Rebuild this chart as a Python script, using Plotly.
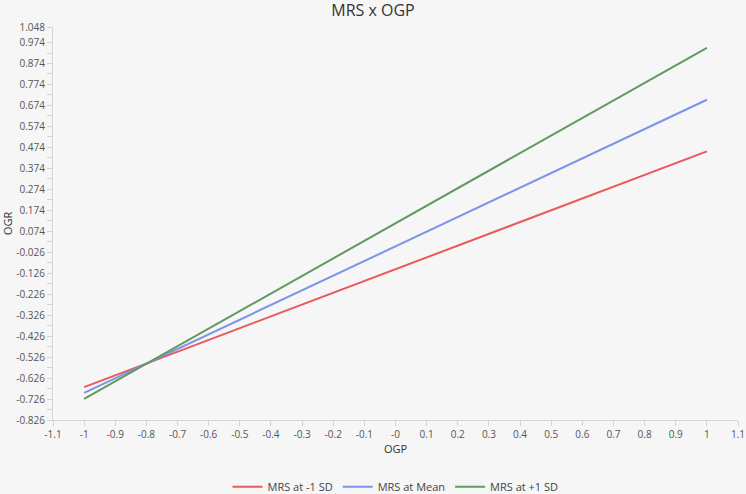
import plotly.graph_objects as go

ogp = [-1, 1]
series_names = ["MRS at -1 SD", "MRS at Mean", "MRS at +1 SD"]
ogr_low = [-0.669, 0.455]
ogr_mean = [-0.697, 0.701]
ogr_high = [-0.725, 0.949]
colors = ["#e8595c", "#7b93ea", "#5f9a5f"]

y_tickvals = [round(-0.826 + 0.1 * i, 3) for i in range(19)] + [1.048]
y_ticktext = [f"{v:.3f}" for v in y_tickvals]
y_minor = [round(-0.776 + 0.1 * i, 3) for i in range(18)]
x_tickvals = [round(-1.1 + 0.1 * i, 1) for i in range(23)]
x_ticktext = [("-0" if abs(v) < 1e-9 else f"{v:g}") for v in x_tickvals]

fig = go.Figure()
for name, ys, c in zip(series_names, [ogr_low, ogr_mean, ogr_high], colors):
    fig.add_trace(go.Scatter(x=ogp, y=ys, mode="lines", name=name,
                             line=dict(color=c, width=2)))

axis_color = "#d4d4d4"
tick_font = dict(family="Open Sans", size=10, color="#555555")
fig.update_layout(
    width=746, height=494,
    paper_bgcolor="#f6f6f6", plot_bgcolor="#f6f6f6",
    margin=dict(l=53, r=8, t=27, b=74, autoexpand=False),
    title=dict(text="MRS x OGP", x=0.5, xanchor="center", y=0.978, yanchor="middle",
               font=dict(family="Open Sans", size=16, color="#333333")),
    showlegend=True,
    legend=dict(orientation="h", x=0.5, xanchor="center", y=-0.133, yanchor="top",
                itemwidth=30, tracegroupgap=0,
                font=dict(family="Open Sans", size=11, color="#444444"),
                bgcolor="rgba(0,0,0,0)"),
    xaxis=dict(range=[-1.1, 1.1], tickmode="array", tickvals=x_tickvals, ticktext=x_ticktext,
               automargin=False,
               showgrid=False, zeroline=False, showline=True, linecolor=axis_color, linewidth=1,
               ticks="outside", ticklen=5, tickcolor=axis_color, tickfont=tick_font,
               title=dict(text="OGP", font=dict(family="Open Sans", size=11, color="#333333"), standoff=5)),
    yaxis=dict(range=[-0.826, 1.048], tickmode="array", tickvals=y_tickvals, ticktext=y_ticktext,
               automargin=False,
               showgrid=False, zeroline=False, showline=True, linecolor=axis_color, linewidth=1,
               ticks="outside", ticklen=5, tickcolor=axis_color, tickfont=tick_font,
               minor=dict(tickmode="array", tickvals=y_minor, ticks="outside", ticklen=5,
                          tickcolor=axis_color, showgrid=False),
               title=dict(text="OGR", font=dict(family="Open Sans", size=11, color="#333333"), standoff=4)),
)

fig.write_html("out.html")
